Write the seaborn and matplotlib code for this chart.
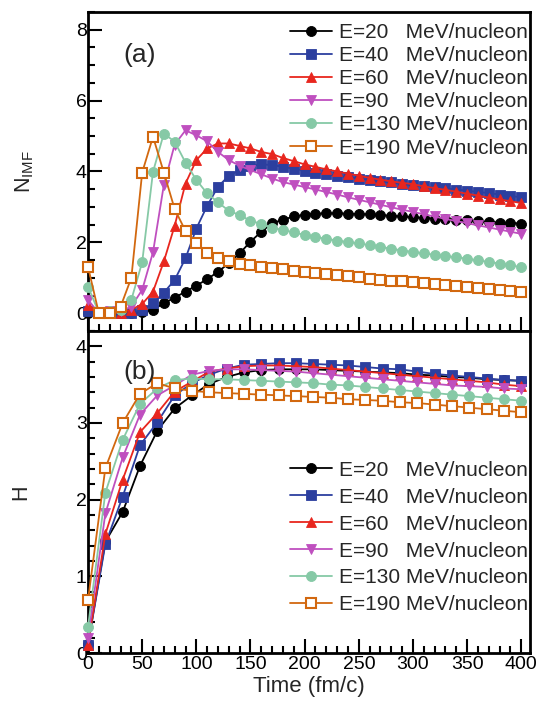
import numpy as np
import pandas as pd
import matplotlib
matplotlib.use("Agg")
import matplotlib.pyplot as plt
from matplotlib.ticker import MultipleLocator
import seaborn as sns

# ---------------- data ----------------
t_top = list(range(0, 401, 10))
t_bot = list(range(0, 401, 16))

energies = ["20", "40", "60", "90", "130", "190"]
labels = ["E=20   MeV/nucleon", "E=40   MeV/nucleon", "E=60   MeV/nucleon",
          "E=90   MeV/nucleon", "E=130 MeV/nucleon", "E=190 MeV/nucleon"]

nimf_20 = [0.02, 0.0, 0.0, 0.0, 0.02, 0.03, 0.10, 0.28, 0.44, 0.61, 0.78, 0.96, 1.17, 1.41,
           1.69, 2.02, 2.30, 2.54, 2.64, 2.73, 2.78, 2.81, 2.82, 2.82, 2.81, 2.80, 2.79, 2.77,
           2.75, 2.73, 2.71, 2.69, 2.67, 2.66, 2.64, 2.62, 2.60, 2.58, 2.56, 2.55, 2.53]
nimf_40 = [0.05, 0.0, 0.0, 0.0, 0.02, 0.08, 0.28, 0.58, 0.94, 1.55, 2.39, 3.03, 3.57, 3.88,
           4.04, 4.16, 4.20, 4.18, 4.13, 4.08, 4.02, 3.96, 3.92, 3.88, 3.84, 3.80, 3.76, 3.72,
           3.69, 3.65, 3.61, 3.58, 3.55, 3.52, 3.49, 3.46, 3.42, 3.39, 3.35, 3.31, 3.27]
nimf_60 = [0.23, 0.0, 0.0, 0.02, 0.10, 0.26, 0.61, 1.46, 2.47, 3.66, 4.32, 4.65, 4.79, 4.79,
           4.72, 4.65, 4.55, 4.49, 4.38, 4.29, 4.20, 4.13, 4.06, 4.00, 3.94, 3.88, 3.82, 3.77,
           3.72, 3.68, 3.64, 3.58, 3.53, 3.48, 3.43, 3.37, 3.32, 3.26, 3.21, 3.16, 3.11]
nimf_90 = [0.38, 0.0, 0.05, 0.05, 0.19, 0.66, 1.72, 3.62, 4.76, 5.16, 5.02, 4.85, 4.55, 4.32,
           4.16, 4.04, 3.92, 3.80, 3.70, 3.63, 3.56, 3.49, 3.42, 3.35, 3.27, 3.20, 3.13, 3.06,
           2.99, 2.92, 2.86, 2.79, 2.73, 2.66, 2.60, 2.54, 2.48, 2.42, 2.36, 2.30, 2.24]
nimf_130 = [0.75, 0.02, 0.05, 0.10, 0.38, 1.44, 3.99, 5.07, 4.84, 4.25, 3.76, 3.38, 3.13, 2.89,
            2.77, 2.61, 2.52, 2.41, 2.35, 2.28, 2.21, 2.15, 2.10, 2.05, 2.01, 1.97, 1.92, 1.87,
            1.82, 1.77, 1.73, 1.69, 1.65, 1.61, 1.58, 1.54, 1.49, 1.45, 1.40, 1.35, 1.30]
nimf_190 = [1.31, 0.0, 0.02, 0.18, 1.00, 3.97, 4.98, 3.97, 2.94, 2.32, 1.97, 1.71, 1.57, 1.47,
            1.40, 1.35, 1.31, 1.28, 1.25, 1.20, 1.16, 1.13, 1.10, 1.07, 1.04, 1.01, 0.98, 0.95,
            0.92, 0.90, 0.88, 0.85, 0.82, 0.79, 0.77, 0.74, 0.71, 0.68, 0.65, 0.62, 0.60]

h_20 = [0.12, 1.45, 1.84, 2.44, 2.90, 3.19, 3.36, 3.51, 3.60, 3.66, 3.69, 3.70, 3.70, 3.70,
        3.69, 3.68, 3.67, 3.66, 3.65, 3.63, 3.62, 3.60, 3.59, 3.57, 3.56, 3.55]
h_40 = [0.11, 1.42, 2.04, 2.71, 3.01, 3.36, 3.52, 3.63, 3.71, 3.76, 3.77, 3.78, 3.78, 3.77,
        3.76, 3.75, 3.73, 3.71, 3.70, 3.67, 3.64, 3.62, 3.60, 3.58, 3.56, 3.55]
h_60 = [0.10, 1.55, 2.26, 2.88, 3.13, 3.41, 3.54, 3.67, 3.71, 3.74, 3.75, 3.75, 3.74, 3.73,
        3.71, 3.69, 3.67, 3.65, 3.63, 3.61, 3.59, 3.57, 3.55, 3.53, 3.50, 3.48]
h_90 = [0.20, 1.82, 2.55, 3.11, 3.36, 3.49, 3.63, 3.68, 3.70, 3.70, 3.69, 3.68, 3.67, 3.65,
        3.63, 3.61, 3.59, 3.57, 3.55, 3.53, 3.51, 3.49, 3.48, 3.47, 3.45, 3.44]
h_130 = [0.34, 2.09, 2.78, 3.25, 3.45, 3.56, 3.58, 3.57, 3.57, 3.56, 3.55, 3.54, 3.53, 3.52,
         3.50, 3.49, 3.47, 3.45, 3.43, 3.41, 3.39, 3.37, 3.35, 3.33, 3.31, 3.29]
h_190 = [0.69, 2.41, 3.00, 3.38, 3.52, 3.45, 3.42, 3.40, 3.39, 3.38, 3.37, 3.36, 3.35, 3.34,
         3.33, 3.31, 3.30, 3.29, 3.27, 3.26, 3.24, 3.22, 3.20, 3.18, 3.16, 3.14]

nimf_series = [nimf_20, nimf_40, nimf_60, nimf_90, nimf_130, nimf_190]
h_series = [h_20, h_40, h_60, h_90, h_130, h_190]

# ---------------- style ----------------
colors = ["#000000", "#2c3f9f", "#e8261e", "#bf4fbf", "#86c9a6", "#d2680f"]
markers = ["o", "s", "^", "v", "o", "s"]
msizes = [7.2, 6.8, 7.8, 7.8, 7.2, 7.0]
filled = [True, True, True, True, True, False]

sns.set_theme(style="ticks")
plt.rcParams["font.family"] = ["Liberation Sans", "DejaVu Sans"]
plt.rcParams["mathtext.fontset"] = "custom"
plt.rcParams["mathtext.rm"] = "Liberation Sans"

fig = plt.figure(figsize=(5.37, 7.03), dpi=100)
ax1 = fig.add_axes([0.1639, 0.5292, 0.823, 0.4538])
ax2 = fig.add_axes([0.1639, 0.0711, 0.823, 0.4581])


def draw(ax, t, series_list):
    handles = []
    for vals, c, m, ms, f, lab in zip(series_list, colors, markers, msizes, filled, labels):
        df = pd.DataFrame({"t": t, "v": vals})
        sns.lineplot(data=df, x="t", y="v", ax=ax, color=c, marker=m, markersize=ms,
                     markerfacecolor=(c if f else "white"), markeredgecolor=c,
                     markeredgewidth=(0.6 if f else 1.5), linewidth=1.3, legend=False,
                     clip_on=False, zorder=3)
        line = ax.lines[-1]
        line.set_label(lab)
        handles.append(line)
    return handles


h1 = draw(ax1, t_top, nimf_series)
h2 = draw(ax2, t_bot, h_series)

for ax in (ax1, ax2):
    ax.set_xlim(0, 408)
    ax.xaxis.set_major_locator(MultipleLocator(50))
    ax.xaxis.set_minor_locator(MultipleLocator(10))
    ax.tick_params(which="both", direction="in", top=False, right=False, width=1.5,
                   labelsize=14, colors="black")
    ax.tick_params(which="major", length=10)
    ax.tick_params(which="minor", length=5)
    ax.tick_params(axis="y", pad=1)
    ax.tick_params(axis="x", pad=2.5)
    for s in ax.spines.values():
        s.set_linewidth(2.0)
        s.set_color("black")
    ax.set_xlabel("")

ax1.set_ylim(-0.5, 8.5)
ax1.yaxis.set_major_locator(MultipleLocator(2))
ax1.yaxis.set_minor_locator(MultipleLocator(0.5))
ax1.tick_params(axis="x", labelbottom=False)
ax1.set_ylabel(r"$\mathregular{N_{IMF}}$", fontsize=15.5)
ax1.yaxis.set_label_coords(-0.118, 0.5)

ax2.set_ylim(0, 4.2)
ax2.yaxis.set_major_locator(MultipleLocator(1))
ax2.yaxis.set_minor_locator(MultipleLocator(0.2))
ax2.set_ylabel("H", fontsize=15.5)
ax2.yaxis.set_label_coords(-0.128, 0.5)
ax2.set_xlabel("Time (fm/c)", fontsize=16, labelpad=2)

ax1.text(0.079, 0.865, "(a)", transform=ax1.transAxes, fontsize=19, va="center", ha="left")
ax2.text(0.079, 0.873, "(b)", transform=ax2.transAxes, fontsize=19, va="center", ha="left")

leg_kw = dict(frameon=False, fontsize=15, handlelength=2.0, handletextpad=0.37,
              borderpad=0, borderaxespad=0, loc="upper left")
ax1.legend(handles=h1, labels=labels, bbox_to_anchor=(0.457, 0.966), labelspacing=0.2, **leg_kw)
ax2.legend(handles=h2, labels=labels, bbox_to_anchor=(0.457, 0.597), labelspacing=0.38, **leg_kw)

fig.savefig("out.png", dpi=100)
